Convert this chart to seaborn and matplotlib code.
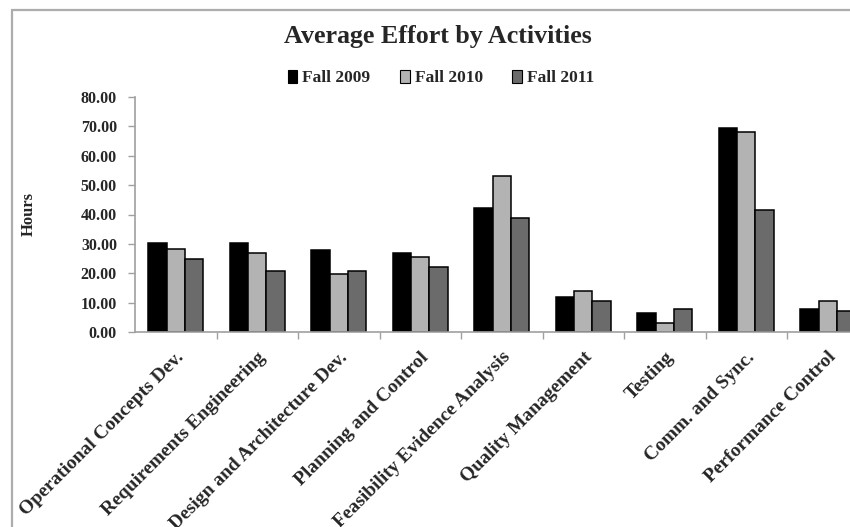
import numpy as np
import pandas as pd
import matplotlib
matplotlib.use("Agg")
import matplotlib.pyplot as plt
from matplotlib.lines import Line2D
from matplotlib.patches import Patch
import seaborn as sns

activities = [
    "Operational Concepts Dev.",
    "Requirements Engineering",
    "Design and Architecture Dev.",
    "Planning and Control",
    "Feasibility Evidence Analysis",
    "Quality Management",
    "Testing",
    "Comm. and Sync.",
    "Performance Control",
]
semesters = ["Fall 2009", "Fall 2010", "Fall 2011"]
fall_2009 = [30.4, 30.4, 27.8, 27.0, 42.1, 12.0, 6.5, 69.6, 7.9]
fall_2010 = [28.4, 27.0, 19.6, 25.5, 53.0, 14.0, 2.9, 68.1, 10.5]
fall_2011 = [25.0, 20.8, 20.8, 22.1, 38.7, 10.5, 7.8, 41.4, 7.1]
y_ticks = [0, 10, 20, 30, 40, 50, 60, 70, 80]

colors = ["#000000", "#b3b3b3", "#6b6b6b"]

df = pd.DataFrame({
    "Activity": activities * 3,
    "Semester": np.repeat(semesters, len(activities)),
    "Hours": fall_2009 + fall_2010 + fall_2011,
})

sns.set_style("white")
plt.rcParams["font.family"] = ["Liberation Serif", "DejaVu Serif"]
plt.rcParams["font.weight"] = "bold"

W, H = 850, 527
fig = plt.figure(figsize=(W / 100, H / 100), dpi=100)
ax = fig.add_axes([135 / W, 1 - 332 / H, (868.5 - 135) / W, (332 - 97) / H])

sns.barplot(
    data=df, x="Activity", y="Hours", hue="Semester",
    hue_order=semesters, order=activities, palette=colors,
    width=0.68, edgecolor="#000000", linewidth=1.1,
    legend=False, ax=ax,
)

ax.set_xlim(-0.5, len(activities) - 0.5)
ax.set_ylim(0, 80)
ax.set_yticks(y_ticks)
ax.set_yticklabels([f"{v:.2f}" for v in y_ticks], fontsize=11.5, fontweight="bold")
ax.set_ylabel("Hours", fontsize=12, fontweight="bold", labelpad=0)
ax.yaxis.set_label_coords(-(135 - 37) / (868.5 - 135), 0.5)
ax.set_xlabel("")

ax.set_xticks(range(len(activities)))
ax.set_xticklabels(activities, rotation=45, ha="right", rotation_mode="anchor",
                   fontsize=14, fontweight="bold")
ax.set_xticks(np.arange(0.5, len(activities) - 0.5, 1.0), minor=True)
ax.tick_params(axis="x", which="major", length=0, pad=12)
ax.tick_params(axis="x", which="minor", length=5, width=1.0, color="#a0a0a0",
               direction="out", bottom=True)
ax.tick_params(axis="y", length=5, width=1.0, color="#a0a0a0", direction="out",
               left=True, pad=8)

for side in ["top", "right"]:
    ax.spines[side].set_visible(False)
for side in ["left", "bottom"]:
    ax.spines[side].set_color("#a0a0a0")
    ax.spines[side].set_linewidth(1.2)

fig.text(438 / W, 1 - 43 / H, "Average Effort by Activities", ha="center",
         va="baseline", fontsize=18.7, fontweight="bold")

handles = [Patch(facecolor=c, edgecolor="#000000", linewidth=0.8) for c in colors]
fig.legend(handles, semesters, loc="center", bbox_to_anchor=(441 / W, 1 - 78 / H),
           ncol=3, frameon=False, handlelength=0.55, handleheight=0.75,
           handletextpad=0.3, columnspacing=1.7, prop={"weight": "bold", "size": 12.5})

# chart frame
fig.add_artist(Line2D([11.5 / W, 11.5 / W], [0, 1 - 10 / H], color="#adadad",
                      linewidth=1.6, transform=fig.transFigure))
fig.add_artist(Line2D([11.5 / W, 1], [1 - 10 / H, 1 - 10 / H], color="#adadad",
                      linewidth=1.6, transform=fig.transFigure))

fig.savefig("out.png", dpi=100)
